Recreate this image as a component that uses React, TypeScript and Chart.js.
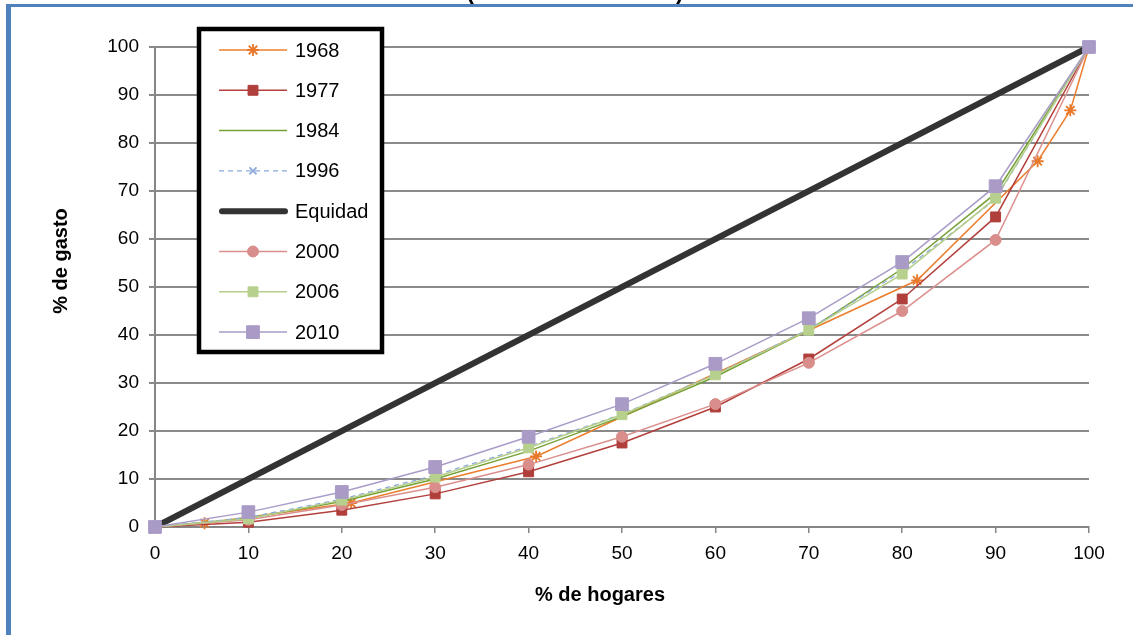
import React, { useEffect, useRef } from "react";
import { Chart, registerables } from "chart.js";
import { drawPoint } from "chart.js/helpers";

Chart.register(...registerables);

// Cumulative share of households (x) vs cumulative share of spending (y)
const decileX = [0, 10, 20, 30, 40, 50, 60, 70, 80, 90, 100];

const x1968 = [0, 5.3, 21, 40.8, 81.6, 94.5, 98, 100];
const y1968 = [0, 0.8, 5.0, 14.7, 51.4, 76.2, 86.8, 100];

const y1977 = [0, 1.0, 3.5, 6.9, 11.5, 17.5, 25.0, 35.0, 47.5, 64.6, 100];
const y1984 = [0, 1.8, 5.3, 10.0, 15.8, 23.0, 31.3, 41.0, 53.8, 69.5, 100];
const y1996 = [0, 2.0, 5.8, 10.8, 16.8, 23.5, 31.8, 41.2, 53.3, 68.3, 100];
const equityX = [0, 100];
const equityY = [0, 100];
const y2000 = [0, 1.5, 4.6, 8.3, 13.0, 18.8, 25.6, 34.2, 45.0, 59.8, 100];
const y2006 = [0, 1.7, 5.6, 10.4, 16.5, 23.4, 31.7, 41.0, 52.7, 68.5, 100];
const y2010 = [0, 3.1, 7.3, 12.5, 18.8, 25.6, 34.0, 43.5, 55.2, 71.0, 100];

const seriesLabels = ["1968", "1977", "1984", "1996", "Equidad", "2000", "2006", "2010"];
const seriesX = [x1968, decileX, decileX, decileX, equityX, decileX, decileX, decileX];
const seriesY = [y1968, y1977, y1984, y1996, equityY, y2000, y2006, y2010];

const yTicks = [0, 10, 20, 30, 40, 50, 60, 70, 80, 90, 100];
const xTicks = [0, 10, 20, 30, 40, 50, 60, 70, 80, 90, 100];

const chartTitle = "(ENIGH 1968 - 2010)";
const xTitle = "% de hogares";
const yTitle = "% de gasto";

type SeriesStyle = {
  line: string;
  marker: string;
  width: number;
  dash: number[];
  pointStyle: string | false;
  radius: number;
};

const styles: SeriesStyle[] = [
  { line: "#EB7E2E", marker: "#E8792A", width: 1.5, dash: [], pointStyle: "star", radius: 6 },
  { line: "#B3403C", marker: "#B03E3A", width: 1.5, dash: [], pointStyle: "rect", radius: 7 },
  { line: "#77A136", marker: "#77A136", width: 1.5, dash: [], pointStyle: false, radius: 0 },
  { line: "#8EA9DB", marker: "#8EA9DB", width: 1.3, dash: [5, 4], pointStyle: "crossRot", radius: 5 },
  { line: "#333333", marker: "#333333", width: 6, dash: [], pointStyle: false, radius: 0 },
  { line: "#DB8F8D", marker: "#D98E8C", width: 1.5, dash: [], pointStyle: "circle", radius: 5.5 },
  { line: "#B5CE8A", marker: "#B7D08D", width: 1.5, dash: [], pointStyle: "rect", radius: 7 },
  { line: "#A99CC8", marker: "#A99BC6", width: 1.5, dash: [], pointStyle: "rect", radius: 9 },
];

const FONT = "'Liberation Sans', Arial, sans-serif";

const framePlugin = {
  id: "frame",
  beforeDraw(chart: any) {
    const ctx = chart.ctx;
    ctx.save();
    ctx.fillStyle = "#FFFFFF";
    ctx.fillRect(0, 0, chart.width, chart.height);
    ctx.restore();
  },
  afterDraw(chart: any) {
    const ctx = chart.ctx;
    ctx.save();

    // title (mostly above the visible frame)
    ctx.fillStyle = "#000000";
    ctx.font = `bold 23px ${FONT}`;
    ctx.textAlign = "center";
    ctx.textBaseline = "alphabetic";
    ctx.fillText(chartTitle, 575, -1);

    // outer frame
    ctx.fillStyle = "#4F81BD";
    ctx.fillRect(6, 4, chart.width - 6, 3);
    ctx.fillRect(6, 4, 5, chart.height - 4);

    // axis titles
    ctx.fillStyle = "#000000";
    ctx.font = `bold 20px ${FONT}`;
    ctx.textAlign = "center";
    ctx.textBaseline = "middle";
    ctx.fillText(xTitle, 600, 595);
    ctx.save();
    ctx.translate(61, 261);
    ctx.rotate(-Math.PI / 2);
    ctx.fillText(yTitle, 0, 0);
    ctx.restore();

    // legend box
    const bx = 199, by = 29, bw = 183, bh = 323;
    ctx.fillStyle = "#FFFFFF";
    ctx.fillRect(bx, by, bw, bh);
    ctx.strokeStyle = "#000000";
    ctx.lineWidth = 4.5;
    ctx.strokeRect(bx, by, bw, bh);

    ctx.font = `20px ${FONT}`;
    ctx.textAlign = "left";
    ctx.textBaseline = "middle";
    seriesLabels.forEach((label, i) => {
      const s = styles[i];
      const y = 50 + i * 40.3;
      ctx.save();
      ctx.strokeStyle = s.line;
      ctx.lineWidth = s.width;
      ctx.setLineDash(s.dash);
      ctx.lineCap = s.width > 3 ? "round" : "butt";
      ctx.beginPath();
      ctx.moveTo(s.width > 3 ? 222 : 219, y);
      ctx.lineTo(s.width > 3 ? 285 : 287, y);
      ctx.stroke();
      ctx.restore();
      if (s.pointStyle) {
        ctx.save();
        ctx.fillStyle = s.marker;
        ctx.strokeStyle = s.marker;
        ctx.lineWidth = s.pointStyle === "star" || s.pointStyle === "crossRot" ? 1.8 : 1;
        drawPoint(ctx, { pointStyle: s.pointStyle, radius: s.radius, rotation: 0, borderWidth: ctx.lineWidth } as any, 253, y);
        ctx.restore();
      }
      ctx.fillStyle = "#000000";
      ctx.fillText(label, 295, y + 1);
    });

    ctx.restore();
  },
};

export default function App() {
  const canvasRef = useRef<HTMLCanvasElement | null>(null);

  useEffect(() => {
    const canvas = canvasRef.current;
    if (!canvas) return;

    const datasets = seriesLabels.map((label, i) => {
      const s = styles[i];
      const xs = seriesX[i];
      const ys = seriesY[i];
      const isCross = s.pointStyle === "star" || s.pointStyle === "crossRot";
      return {
        label,
        data: xs.map((x, k) => ({ x, y: ys[k] })),
        borderColor: s.line,
        borderWidth: s.width,
        borderDash: s.dash,
        backgroundColor: s.marker,
        pointStyle: s.pointStyle,
        pointRadius: s.radius,
        pointBackgroundColor: s.marker,
        pointBorderColor: s.marker,
        pointBorderWidth: isCross ? 1.8 : 1,
        fill: false,
        tension: 0,
        clip: false,
        order: seriesLabels.length - i,
      };
    });

    const chart = new Chart(canvas, {
      type: "line",
      data: { datasets } as any,
      options: {
        responsive: false,
        animation: false,
        devicePixelRatio: 1,
        layout: { padding: { top: 47, right: 44, left: 0, bottom: 0 } },
        plugins: {
          legend: { display: false },
          tooltip: { enabled: false },
          title: { display: false },
        },
        scales: {
          x: {
            type: "linear",
            min: 0,
            max: 100,
            afterBuildTicks: (scale: any) => {
              scale.ticks = xTicks.map((v) => ({ value: v }));
            },
            afterFit: (scale: any) => {
              scale.height = 108;
            },
            ticks: {
              color: "#000000",
              font: { family: FONT, size: 19 },
              padding: 9,
              maxRotation: 0,
              autoSkip: false,
            },
            grid: {
              drawOnChartArea: false,
              drawTicks: true,
              tickLength: 6,
              color: "#868686",
              lineWidth: 1.5,
            },
            border: { display: true, color: "#868686", width: 2 },
          },
          y: {
            type: "linear",
            min: 0,
            max: 100,
            afterBuildTicks: (scale: any) => {
              scale.ticks = yTicks.map((v) => ({ value: v }));
            },
            afterFit: (scale: any) => {
              scale.width = 155;
            },
            ticks: {
              color: "#000000",
              font: { family: FONT, size: 19 },
              padding: 10,
              autoSkip: false,
            },
            grid: {
              drawOnChartArea: true,
              drawTicks: true,
              tickLength: 6,
              color: "#8A8A8A",
              lineWidth: 2,
            },
            border: { display: true, color: "#868686", width: 2 },
          },
        },
      } as any,
      plugins: [framePlugin],
    });

    return () => chart.destroy();
  }, []);

  return (
    <div style={{ position: "absolute", left: 0, top: 0, width: 1133, height: 635, background: "#FFFFFF" }}>
      <canvas ref={canvasRef} width={1133} height={635} style={{ display: "block", width: 1133, height: 635 }} />
    </div>
  );
}
